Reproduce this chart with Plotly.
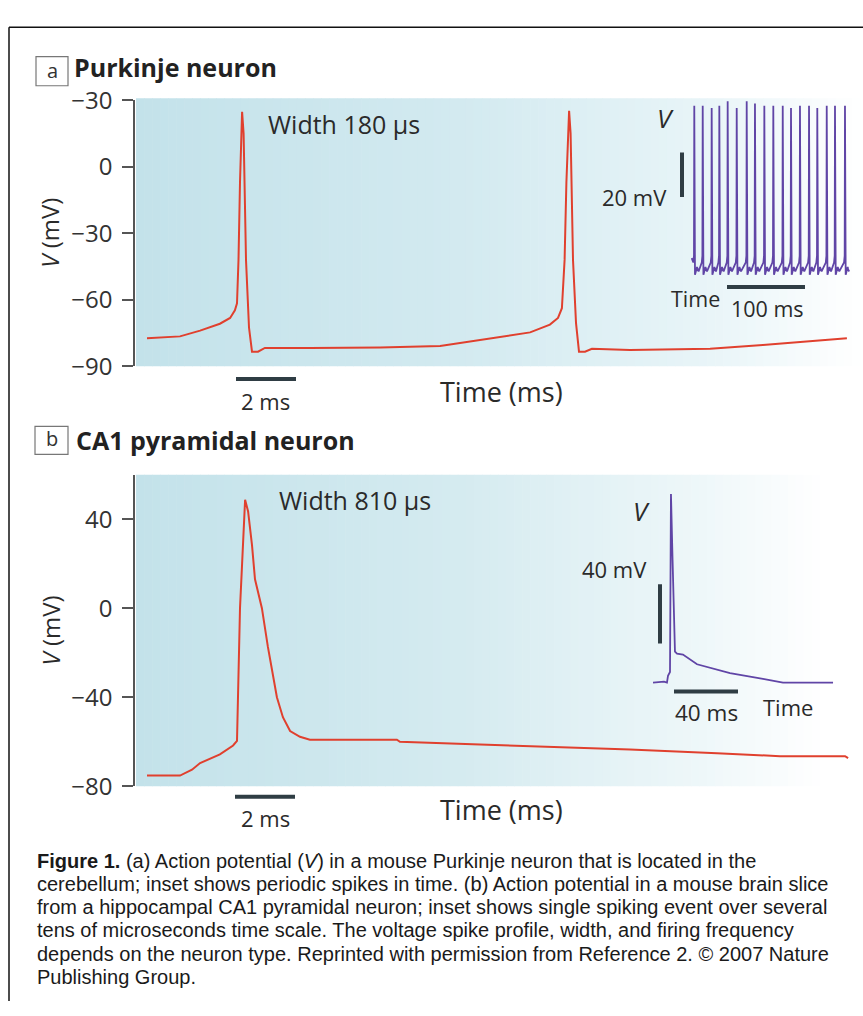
import plotly.graph_objects as go

W, H = 863, 1016
def X(px): return px / W
def Y(py): return 1 - py / H

# ---------------- data ----------------
# Panel a: Purkinje neuron action potentials (time in ms, V in mV)
a_time = [0.4, 1.5, 2.17, 2.83, 3.17, 3.33, 3.4, 3.45, 3.5, 3.57, 3.62, 3.7, 3.8, 3.9, 4.1, 4.33,
          5.83, 8.17, 10.17, 12.07, 13.17, 13.83, 14.1, 14.23, 14.32, 14.38, 14.47, 14.52, 14.6,
          14.7, 14.8, 15.0, 15.23, 16.5, 19.17, 20.93, 22.5, 23.73]
a_volt = [-77.3, -76.5, -73.9, -70.8, -68.2, -64.7, -61.6, -42, -7, 24.8, 15, -42, -72.5, -83.4, -83.4, -81.7,
          -81.7, -81.5, -80.8, -76.9, -74.7, -71.2, -68.2, -63.8, -42, -7, 25.2, 15, -42,
          -70.4, -83.4, -83.4, -82.1, -82.6, -82.1, -80.4, -78.6, -77.3]

# Panel b: CA1 pyramidal neuron action potential
b_time = [0.4, 1.5, 1.9, 2.17, 2.83, 3.27, 3.4, 3.45, 3.5, 3.57, 3.63, 3.67, 3.77, 3.9, 4.0, 4.23,
          4.43, 4.73, 4.93, 5.17, 5.5, 5.83, 8.73, 8.83, 11.5, 13.73, 16.5, 19.4, 21.5, 23.67, 23.77]
b_volt = [-75.2, -75.2, -72.6, -69.6, -65.7, -61.7, -59.6, -30, 0, 20, 40, 48.7, 43.5, 28.3, 13, 0,
          -17.4, -40, -49, -55.2, -57.8, -59.1, -59.1, -60, -61.3, -62.2, -63.5, -65.2, -66.5, -66.5, -67.4]

# Inset a: periodic spikes (time in ms, V in mV)
ins_a_spike_t = [11.9, 22.7, 34.2, 44.0, 54.7, 66.3, 79.1, 89.7, 101.7, 113.2, 125.3, 135.9,
                 147.4, 159.0, 169.6, 181.7, 192.3, 205.1]
ins_a_peak = [10, 10, 9, 10, 12, 9, 12, 11, 10, 10, 10, 9, 10, 10, 9, 10, 10, 10]
ins_a_start = (8.6, -58.5)
ins_a_end = (209.0, -63.5)
ins_a_trough = -66.0
ins_a_ahp = [-62.5, -64.5]     # small after-hyperpolarisation bumps
ins_a_pre = [-60.5, -57.5]     # pre-spike depolarisation

# Inset b: single spiking event
ins_b_time = [1.9, 8.75, 10.6, 11.25, 12.5, 13.1, 14.1, 15.6, 16.9, 20.6, 29.4, 40.6, 50.0, 70.6, 83.1, 114.4]
ins_b_volt = [-65, -64.3, -65, -60.4, -57.8, 62.5, 18, -44, -45.4, -46, -52.6, -55.8, -58.5, -62.4, -65, -65]

a_ticks = [30, 0, -30, -60, -90]
a_ticktext = ["\u221230", "0", "\u221230", "\u221260", "\u221290"]
b_ticks = [40, 0, -40, -80]
b_ticktext = ["40", "0", "\u221240", "\u221280"]

caption_lines = [
    "<b>Figure 1.</b> (a) Action potential (<i>V</i>) in a mouse Purkinje neuron that is located in the",
    "cerebellum; inset shows periodic spikes in time. (b) Action potential in a mouse brain slice",
    "from a hippocampal CA1 pyramidal neuron; inset shows single spiking event over several",
    "tens of microseconds time scale. The voltage spike profile, width, and firing frequency",
    "depends on the neuron type. Reprinted with permission from Reference 2. \u00a9 2007 Nature",
    "Publishing Group.",
]

# ---------------- build inset a waveform from read spike times ----------------
ia_t, ia_v = [ins_a_start[0]], [ins_a_start[1]]
for t, pk in zip(ins_a_spike_t, ins_a_peak):
    ia_t += [t - 1.2, t - 0.4, t, t + 0.9, t + 3.5, t + 5.5]
    ia_v += [ins_a_pre[0], ins_a_pre[1], pk, ins_a_trough, ins_a_ahp[0], ins_a_ahp[1]]
ia_t.append(ins_a_end[0]); ia_v.append(ins_a_end[1])
pts = sorted(zip(ia_t, ia_v), key=lambda p: p[0])
ia_t = [p[0] for p in pts]; ia_v = [p[1] for p in pts]

RED = "#e0402e"
PURPLE = "#6045a6"
BAR = "#2f3d44"
AX = "#555555"
FONT = "Open Sans, Lato, sans-serif"
CAPFONT = "Liberation Sans, Arial, sans-serif"

fig = go.Figure()
fig.add_trace(go.Scatter(x=a_time, y=a_volt, xaxis="x", yaxis="y", mode="lines",
                         line=dict(color=RED, width=2), hoverinfo="skip"))
fig.add_trace(go.Scatter(x=b_time, y=b_volt, xaxis="x2", yaxis="y2", mode="lines",
                         line=dict(color=RED, width=2), hoverinfo="skip"))
fig.add_trace(go.Scatter(x=ia_t, y=ia_v, xaxis="x3", yaxis="y3", mode="lines",
                         line=dict(color=PURPLE, width=1.8), hoverinfo="skip"))
fig.add_trace(go.Scatter(x=ins_b_time, y=ins_b_volt, xaxis="x4", yaxis="y4", mode="lines",
                         line=dict(color=PURPLE, width=1.8), hoverinfo="skip"))

px_per_ms = 30.0
xa0, xa1 = 135, 855
a_top, a_bot = 85, 360
b_top, b_bot = 472, 794

yax = dict(showline=True, linecolor=AX, linewidth=1.6, ticks="outside", ticklen=11,
           tickwidth=1.6, tickcolor=AX, showgrid=False, zeroline=False,
           tickfont=dict(family=FONT, size=24, color="#333"), ticklabelstandoff=5)
hidden = dict(visible=False, showgrid=False, zeroline=False)

fig.update_layout(
    width=W, height=H, margin=dict(l=0, r=0, t=0, b=0),
    paper_bgcolor="white", plot_bgcolor="rgba(0,0,0,0)", showlegend=False,
    xaxis=dict(domain=[X(xa0), X(xa1)], range=[0, (xa1 - xa0) / px_per_ms], anchor="y", **hidden),
    yaxis=dict(domain=[Y(a_bot), Y(a_top)], range=[-90, 30], anchor="x",
               tickvals=a_ticks, ticktext=a_ticktext, **yax),
    xaxis2=dict(domain=[X(xa0), X(xa1)], range=[0, (xa1 - xa0) / px_per_ms], anchor="y2", **hidden),
    yaxis2=dict(domain=[Y(b_bot), Y(b_top)], range=[-80, 60], anchor="x2",
                tickvals=b_ticks, ticktext=b_ticktext, **yax),
    xaxis3=dict(domain=[X(685), X(850)], range=[0, 165 / 0.78], anchor="y3", **hidden),
    yaxis3=dict(domain=[Y(270), Y(84)], range=[-68, -68 + 186 / 2.3], anchor="x3", **hidden),
    xaxis4=dict(domain=[X(650), X(840)], range=[0, 190 / 1.6], anchor="y4", **hidden),
    yaxis4=dict(domain=[Y(692), Y(485)], range=[-68.3, -68.3 + 207 / 1.53], anchor="x4", **hidden),
)

shapes = []
def lerp_color(t, stops):
    for (t0, c0), (t1, c1) in zip(stops[:-1], stops[1:]):
        if t0 <= t <= t1:
            f = (t - t0) / (t1 - t0) if t1 > t0 else 0
            return "rgb(%d,%d,%d)" % tuple(round(c0[k] + (c1[k] - c0[k]) * f) for k in range(3))
    return "rgb(%d,%d,%d)" % stops[-1][1]

stops_a = [(0, (195, 226, 234)), (0.45, (211, 234, 240)), (0.8, (233, 245, 248)), (1.0, (255, 255, 255))]
stops_b = [(0, (195, 226, 234)), (0.45, (213, 235, 240)), (0.78, (238, 247, 249)), (0.95, (255, 255, 255)), (1.0, (255, 255, 255))]
N = 90
gx0, gx1 = 136, 860
for (top, bot, stops) in [(83, a_bot, stops_a), (b_top, b_bot, stops_b)]:
    for i in range(N):
        x0 = gx0 + (gx1 - gx0) * i / N
        x1 = gx0 + (gx1 - gx0) * (i + 1) / N + 0.6
        shapes.append(dict(type="rect", xref="paper", yref="paper", x0=X(x0), x1=X(x1),
                           y0=Y(bot), y1=Y(top), fillcolor=lerp_color((i + 0.5) / N, stops),
                           line=dict(width=0), layer="below"))

# outer frame: only top and left edges fall inside the picture
shapes.append(dict(type="line", xref="paper", yref="paper", x0=X(9), x1=1, y0=Y(9.5), y1=Y(9.5),
                   line=dict(color="#111", width=1.5)))
shapes.append(dict(type="line", xref="paper", yref="paper", x0=X(9), x1=X(9), y0=0, y1=Y(9.5),
                   line=dict(color="#111", width=1.5)))
# panel label boxes
shapes.append(dict(type="rect", xref="paper", yref="paper", x0=X(36), x1=X(68), y0=Y(70), y1=Y(40),
                   line=dict(color="#777", width=1.2)))
shapes.append(dict(type="rect", xref="paper", yref="paper", x0=X(35), x1=X(68), y0=Y(451), y1=Y(422),
                   line=dict(color="#777", width=1.2)))
# 2 ms scale bars
shapes.append(dict(type="line", xref="x", yref="paper", x0=(236 - xa0) / px_per_ms, x1=(236 - xa0) / px_per_ms + 2,
                   y0=Y(373), y1=Y(373), line=dict(color=BAR, width=4)))
shapes.append(dict(type="line", xref="x2", yref="paper", x0=(235 - xa0) / px_per_ms, x1=(235 - xa0) / px_per_ms + 2,
                   y0=Y(805), y1=Y(805), line=dict(color=BAR, width=4)))
# inset a scale bars: 20 mV, 100 ms
shapes.append(dict(type="line", xref="paper", yref="y3", x0=X(682), x1=X(682), y0=-31, y1=-11,
                   line=dict(color=BAR, width=4)))
shapes.append(dict(type="line", xref="x3", yref="paper", x0=(727 - 685) / 0.78, x1=(727 - 685) / 0.78 + 100,
                   y0=Y(278), y1=Y(278), line=dict(color=BAR, width=4)))
# inset b scale bars: 40 mV, 40 ms
shapes.append(dict(type="line", xref="paper", yref="y4", x0=X(660), x1=X(660), y0=-38.5, y1=1.5,
                   line=dict(color=BAR, width=4)))
shapes.append(dict(type="line", xref="x4", yref="paper", x0=(674 - 650) / 1.6, x1=(674 - 650) / 1.6 + 40,
                   y0=Y(696), y1=Y(696), line=dict(color=BAR, width=4)))
fig.update_layout(shapes=shapes)

ann = []
def txt(text, px, py, size, xanchor="center", color="#2a2a2a", family=FONT, angle=0):
    ann.append(dict(text=text, x=X(px), y=Y(py), xref="paper", yref="paper", showarrow=False,
                    xanchor=xanchor, yanchor="middle", textangle=angle,
                    font=dict(family=family, size=size, color=color)))

txt("a", 52, 54, 20, color="#333")
txt("<b>Purkinje neuron</b>", 72, 51, 25, xanchor="left", color="#222")
txt("b", 51.5, 435, 20, color="#333")
txt("<b>CA1 pyramidal neuron</b>", 74, 436, 25, xanchor="left", color="#222")
txt("Width 180 \u03bcs", 266, 110, 25, xanchor="left")
txt("Width 810 \u03bcs", 277, 498, 25, xanchor="left")
txt("<i>V</i> (mV)", 50, 222, 24, angle=-90)
txt("<i>V</i> (mV)", 50, 633, 24, angle=-90)
txt("Time (ms)", 501, 386, 27)
txt("Time (ms)", 501, 818, 27)
txt("2 ms", 265, 396, 22)
txt("2 ms", 265, 827, 22)
txt("<i>V</i>", 665, 103, 26)
txt("20 mV", 669, 185, 22, xanchor="right")
txt("Time", 695, 290, 21.5)
txt("100 ms", 767, 300, 21.5)
txt("<i>V</i>", 641, 510, 26)
txt("40 mV", 649, 570, 22, xanchor="right")
txt("40 ms", 706, 718, 22.5)
txt("Time", 788, 712, 22)

for i, line in enumerate(caption_lines):
    txt(line, 35, 871 + 24 * i, 20, xanchor="left", color="#1a1a1a", family=CAPFONT)

fig.update_layout(annotations=ann)
fig.write_html("out.html", config={"displayModeBar": False},
               post_script="document.body.style.margin='0';document.body.style.overflow='hidden';")
